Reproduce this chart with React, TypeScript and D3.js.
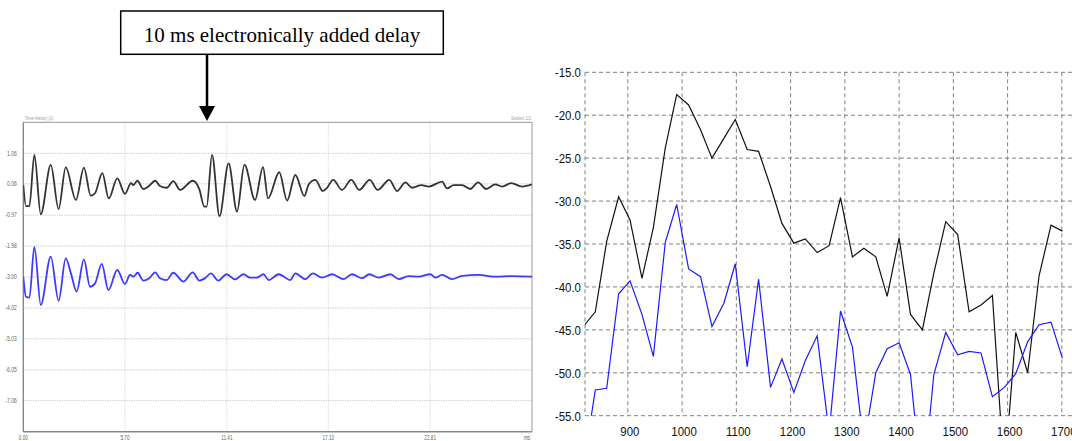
import * as d3 from 'd3'

// left panel: time history, two channels (ms / volts)
const blackT = [0, 0.15, 0.34, 0.62, 0.98, 1.54, 1.98, 2.38, 2.95, 3.4, 3.78, 4.02, 4.43, 4.79, 5.27, 5.7, 6.04, 6.17, 6.39, 6.73, 7.01, 7.4, 7.66, 8.04, 8.41, 8.79, 9.5, 9.87, 10.15, 10.28, 10.58, 11.0, 11.51, 11.98, 12.4, 12.99, 13.44, 13.72, 14.35, 14.79, 15.25, 15.76, 16.0, 16.37, 16.79, 17.03, 17.37, 17.87, 18.39, 18.84, 19.42, 19.87, 20.52, 20.95, 21.42, 21.79, 22.32, 22.73, 23.48, 23.76, 24.13, 24.6, 25.06, 25.5, 25.94, 26.47, 26.84, 27.36, 27.96, 28.52]
const blackV = [0.02, -0.67, -0.67, 1.01, -0.94, 0.68, -0.77, 0.6, -0.47, 0.59, -0.33, -0.25, 0.41, -0.42, 0.24, -0.27, 0.08, 0.02, 0.16, -0.11, -0.03, 0.16, -0.01, -0.07, 0.15, -0.14, 0.16, -0.12, -0.69, -0.69, 1.01, -1.0, 0.73, -0.85, 0.69, -0.47, 0.61, -0.42, 0.44, -0.49, 0.35, -0.34, 0.04, 0.19, -0.18, -0.07, 0.19, -0.14, 0.19, -0.14, 0.19, -0.14, 0.19, -0.18, 0.11, -0.07, 0.02, -0.03, 0.13, -0.09, 0.02, 0.02, -0.11, 0.11, -0.11, 0.04, -0.03, 0.08, -0.03, 0.04]

const blueT = [0, 0.15, 0.34, 0.62, 0.98, 1.54, 1.98, 2.38, 2.67, 2.99, 3.4, 3.74, 4.02, 4.4, 4.77, 5.27, 5.7, 5.98, 6.17, 6.41, 6.73, 7.06, 7.4, 7.66, 8.04, 8.41, 8.97, 9.5, 9.87, 10.19, 10.52, 10.93, 11.4, 11.87, 12.34, 12.71, 13.09, 13.46, 13.76, 14.32, 14.97, 15.25, 15.81, 16.23, 16.75, 17.31, 17.96, 18.43, 18.99, 19.4, 19.93, 20.58, 21.05, 21.61, 22.17, 22.82, 23.1, 23.48, 24.04, 24.6, 25.53, 26.47, 27.4, 28.52]
const blueV = [-2.99, -3.65, -3.68, -2.01, -3.92, -2.33, -3.78, -2.39, -2.88, -3.48, -2.42, -3.32, -3.21, -2.57, -3.43, -2.77, -3.23, -2.93, -2.99, -2.86, -3.12, -3.04, -2.85, -3.04, -3.1, -2.86, -3.15, -2.85, -3.12, -3.04, -2.88, -3.12, -2.91, -3.08, -2.91, -3.02, -3.02, -2.91, -3.1, -2.91, -3.1, -2.88, -3.07, -2.88, -3.02, -2.91, -3.07, -2.91, -3.04, -2.91, -3.02, -2.91, -3.07, -2.97, -2.99, -2.91, -3.02, -2.93, -3.07, -2.96, -2.93, -2.99, -2.97, -2.99]

const leftYTicks = [1.06, 0.06, -0.97, -1.98, -3.0, -4.02, -5.03, -6.05, -7.06]
const leftXTicks = [0, 5.7, 11.41, 17.1, 22.81]

// right panel: spectrum (Hz / dB)
const freq = [818, 840, 861, 883, 904, 926, 947, 969, 990, 1012, 1034, 1055, 1077, 1098, 1120, 1141, 1163, 1184, 1206, 1227, 1249, 1271, 1292, 1314, 1335, 1357, 1378, 1400, 1421, 1443, 1464, 1486, 1508, 1529, 1551, 1572, 1594, 1615, 1637, 1658, 1680, 1701]
const blackDb = [-44.6, -42.9, -34.7, -29.5, -32.2, -39.0, -33.1, -23.8, -17.6, -18.8, -21.7, -25.0, -22.7, -20.5, -24.0, -24.2, -28.3, -32.6, -34.9, -34.4, -36.0, -35.2, -29.6, -36.5, -35.5, -36.5, -41.1, -34.3, -43.2, -45.0, -38.4, -32.4, -33.9, -42.9, -42.1, -41.0, -62.0, -45.3, -50.0, -38.7, -32.8, -33.5]
const blueDb = [-61.0, -52.0, -51.8, -40.8, -39.3, -43.2, -48.1, -34.8, -30.4, -37.9, -38.8, -44.6, -41.9, -37.3, -49.3, -39.1, -51.7, -48.4, -52.3, -48.6, -45.7, -57.0, -42.8, -47.0, -58.5, -50.0, -47.2, -46.5, -50.2, -64.0, -50.2, -45.3, -47.9, -47.5, -47.7, -52.8, -51.7, -50.1, -46.4, -44.4, -44.1, -48.3]
const rightYTicks = [-15, -20, -25, -30, -35, -40, -45, -50, -55]
const rightXTicks = [900, 1000, 1100, 1200, 1300, 1400, 1500, 1600, 1700]

export default function App() {
  // left time history
  const L = { left: 23.3, right: 532, top: 122.3, bottom: 431.7 }
  const lx = d3.scaleLinear().domain([0, 28.52]).range([L.left, L.right])
  const ly = d3.scaleLinear().domain([-8.08, 2.08]).range([L.bottom, L.top])
  const wave = d3
    .line<[number, number]>()
    .x((d) => lx(d[0]))
    .y((d) => ly(d[1]))
    .curve(d3.curveMonotoneX)
  const blackPts = blackT.map((t, i) => [t, blackV[i]] as [number, number])
  const bluePts = blueT.map((t, i) => [t, blueV[i]] as [number, number])

  // right spectrum
  const R = { left: 585, right: 1072.7, top: 72.3, bottom: 415.7 }
  const rx = d3.scaleLinear().domain([821, 1720]).range([R.left, R.right])
  const ry = d3.scaleLinear().domain([-55, -15]).range([R.bottom, R.top])
  const spec = d3
    .line<number>()
    .x((_, i) => rx(freq[i]))
    .y((d) => ry(d))

  const arrowX = lx(10.3)

  return (
    <svg
      width={1072}
      height={441}
      style={{ position: 'absolute', left: 0, top: 0, background: '#fff' }}
    >
      <defs>
        <clipPath id="specClip">
          <rect x={R.left} y={R.top} width={1072 - R.left} height={R.bottom - R.top} />
        </clipPath>
        <clipPath id="waveClip">
          <rect x={L.left} y={L.top} width={L.right - L.left} height={L.bottom - L.top} />
        </clipPath>
      </defs>

      {/* annotation */}
      <rect x={120.7} y={11} width={322.6} height={43.3} fill="#fff" stroke="#000" strokeWidth={1.5} />
      <text
        x={282}
        y={41.7}
        textAnchor="middle"
        fontFamily="'Liberation Serif', 'Times New Roman', serif"
        fontSize={21}
        fill="#000"
      >
        10 ms electronically added delay
      </text>
      <line x1={arrowX} x2={arrowX} y1={54.3} y2={108} stroke="#000" strokeWidth={2.5} />
      <polygon
        points={`${arrowX - 8},${106} ${arrowX + 8},${106} ${arrowX},${121}`}
        fill="#000"
      />

      {/* left panel grid */}
      {leftYTicks.map((t) => (
        <line
          key={'ly' + t}
          x1={L.left}
          x2={L.right}
          y1={ly(t)}
          y2={ly(t)}
          stroke="#c4c4c4"
          strokeDasharray="1.2,1.2"
        />
      ))}
      {leftXTicks.slice(1).map((t) => (
        <line
          key={'lx' + t}
          x1={lx(t)}
          x2={lx(t)}
          y1={L.top}
          y2={L.bottom}
          stroke="#d4d4d4"
          strokeDasharray="1.2,1.2"
        />
      ))}
      <line x1={L.left} x2={L.right} y1={L.top} y2={L.top} stroke="#aaa" strokeWidth={1.2} />
      <line x1={L.right} x2={L.right} y1={L.top} y2={L.bottom} stroke="#999" strokeWidth={1} />
      <line x1={L.left} x2={L.left} y1={L.top} y2={L.bottom} stroke="#888" strokeWidth={1.4} />
      <line x1={L.left} x2={L.right} y1={L.bottom} y2={L.bottom} stroke="#888" strokeWidth={1.4} />

      <g clipPath="url(#waveClip)">
        <path d={wave(bluePts) ?? ''} fill="none" stroke="#3b3bff" strokeWidth={1.8} />
        <path d={wave(blackPts) ?? ''} fill="none" stroke="#333" strokeWidth={1.8} />
      </g>

      {/* left tiny labels */}
      <g fontFamily="'Liberation Sans', Arial, sans-serif" fill="#666">
        {leftYTicks.map((t) => (
          <text
            key={'lyt' + t}
            transform={`translate(16.8,${ly(t) + 2.3}) scale(0.72,1)`}
            textAnchor="end"
            fontSize={7}
          >
            {t.toFixed(2)}
          </text>
        ))}
        {leftXTicks.map((t) => (
          <text
            key={'lxt' + t}
            transform={`translate(${lx(t)},${440}) scale(0.72,1)`}
            textAnchor="middle"
            fontSize={6.5}
          >
            {t.toFixed(2)}
          </text>
        ))}
        <text transform={`translate(527,440) scale(0.72,1)`} textAnchor="middle" fontSize={6.5}>
          ms
        </text>
        <text transform={`translate(25,119.5) scale(0.8,1)`} fontSize={5} fill="#999">
          Time History (1)
        </text>
        <text transform={`translate(531,119.5) scale(0.8,1)`} fontSize={5} fill="#999" textAnchor="end">
          Section 1/1
        </text>
      </g>

      {/* right spectrum grid */}
      <g stroke="#808080" strokeWidth={1} strokeDasharray="4,3">
        {rightYTicks.map((t) => (
          <line key={'ry' + t} x1={R.left} x2={1072} y1={ry(t)} y2={ry(t)} />
        ))}
        <line x1={R.left} x2={R.left} y1={R.top} y2={R.bottom} />
        {rightXTicks.map((t) => (
          <line key={'rx' + t} x1={rx(t)} x2={rx(t)} y1={R.top} y2={R.bottom} />
        ))}
      </g>

      <g clipPath="url(#specClip)">
        <path d={spec(blackDb) ?? ''} fill="none" stroke="#111" strokeWidth={1.2} />
        <path d={spec(blueDb) ?? ''} fill="none" stroke="#1a1aff" strokeWidth={1.2} />
      </g>

      <g fontFamily="'Liberation Sans', Arial, sans-serif" fill="#111" fontSize={13.5}>
        {rightYTicks.map((t) => (
          <text
            key={'ryt' + t}
            transform={`translate(581,${ry(t) + 4.8}) scale(0.85,1)`}
            textAnchor="end"
          >
            {t.toFixed(1)}
          </text>
        ))}
        {rightXTicks.map((t) => (
          <text
            key={'rxt' + t}
            transform={`translate(${rx(t) + 2},${436}) scale(0.85,1)`}
            textAnchor="middle"
          >
            {t}
          </text>
        ))}
      </g>
    </svg>
  )
}
